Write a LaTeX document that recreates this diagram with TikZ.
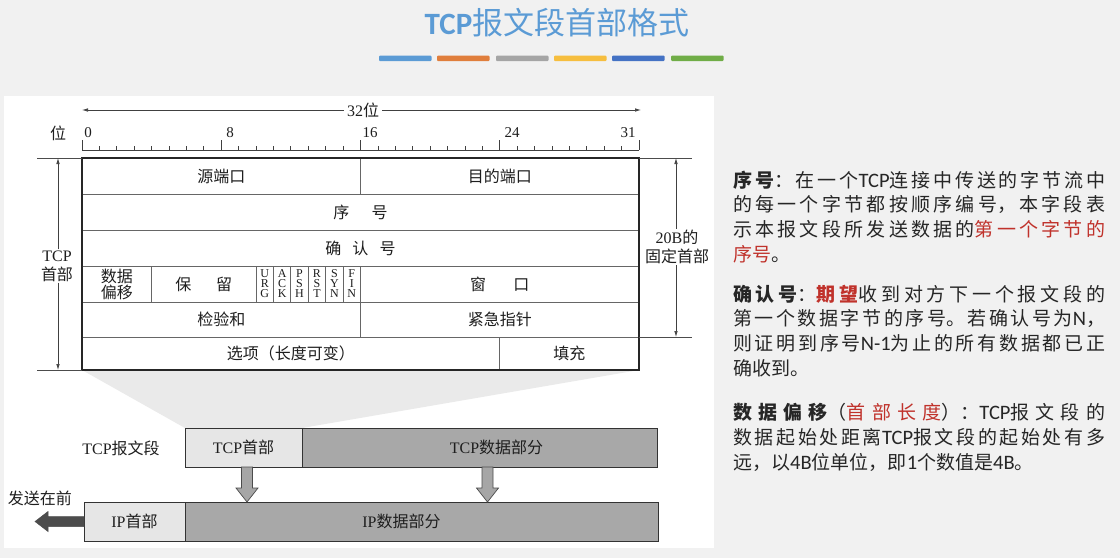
\documentclass[tikz,border=0pt]{standalone}
\usepackage{fontspec}
\setmainfont{Noto Sans CJK SC}
\newfontfamily\tmfont{Liberation Serif}
\newfontfamily\clfont[Scale=1.08]{Carlito}
\newfontfamily\cltitle{Carlito}
\newcommand\tm[1]{{\tmfont #1}}
\newcommand\cl[1]{{\clfont #1}}
\usetikzlibrary{arrows.meta,calc,backgrounds}
\XeTeXlinebreaklocale "zh"
\XeTeXlinebreakskip=0pt plus 4pt
\tolerance=9999
\definecolor{slidebg}{HTML}{F1F1F1}
\definecolor{titleblue}{HTML}{5B9BD5}
\definecolor{barA}{HTML}{5B9BD5}
\definecolor{barB}{HTML}{E07E3C}
\definecolor{barC}{HTML}{A5A5A5}
\definecolor{barD}{HTML}{F6BE3F}
\definecolor{barE}{HTML}{4472C4}
\definecolor{barF}{HTML}{70AD47}
\definecolor{ink}{HTML}{262626}
\definecolor{accent}{HTML}{C0322B}
\definecolor{figink}{HTML}{1E1E1E}
\definecolor{hdrfill}{HTML}{E6E6E6}
\definecolor{datafill}{HTML}{A8A8A8}
\definecolor{zoomfill}{HTML}{EAEAEA}
\newcommand\accenttext[1]{{\color{accent}#1}}
\begin{document}
\begin{tikzpicture}[x=1pt,y=-1pt,
  figtext/.style={font=\fontsize{16}{19}\selectfont, text=figink, inner sep=1pt, align=center},
  numlab/.style={font=\tmfont\fontsize{15}{15}\selectfont, text=figink, inner sep=0pt},
  cell/.style={draw=black!60, line width=0.8pt, inner sep=0pt, outer sep=0pt, anchor=north west,
    align=center, font=\fontsize{16}{16}\selectfont, text=figink},
  flag/.style={cell, minimum width=17.40625, minimum height=36, font=\tmfont\fontsize{12}{10}\selectfont},
  outline/.style={draw=black!85, line width=1.5pt},
  rulerline/.style={draw=black!75, line width=0.8pt},
  extline/.style={draw=black!70, line width=0.8pt},
  dim/.style={draw=black!75, line width=0.7pt, -{Latex[length=6pt,width=3.5pt]}},
  hdrbox/.style={draw=black!80, line width=1pt, fill=hdrfill, anchor=north west, inner sep=0pt,
    outer sep=0pt, font=\fontsize{16}{16}\selectfont, text=figink},
  databox/.style={hdrbox, fill=datafill},
  blockarr/.style={draw=black!70, line width=0.7pt, fill=black!35, line join=miter},
  sendarr/.style={fill=black!70, draw=black!70, line width=0.5pt, line join=miter},
  para/.style={anchor=north west, inner sep=0pt, text width=372, align=justify,
    font=\fontsize{19}{24.7}\selectfont, text=ink}]
\useasboundingbox (0,0) rectangle (1120,558);
\begin{scope}[on background layer]
  \fill[slidebg] (0,0) rectangle (1120,558);
  \fill[white] (4,96) rectangle (714,548);
\end{scope}

% title and coloured bars
\node[font=\fontsize{31}{31}\selectfont, text=titleblue, inner sep=0pt] (title) at (557,23)
  {{\cltitle\bfseries TCP}报文段首部格式};
\foreach \x/\c in {379/barA, 437/barB, 496/barC, 554/barD, 612/barE, 671/barF}
  \fill[\c, rounded corners=1pt] (\x,55.5) rectangle ++(52.5,5.5);

% bit ruler
\draw[rulerline] (82,150) -- (639,150);
\foreach \i in {1,...,31}
  \draw[rulerline] ({82+\i*17.40625},150) -- ++(0,-4);
\foreach \i in {0,8,16,24,32}
  \draw[rulerline] ({82+\i*17.40625},150) -- ++(0,-10);
\node[figtext] (wei) at (58,133) {位};
\node[numlab] (n0) at (88,133) {0};
\node[numlab] (n8) at (230,133) {8};
\node[numlab] (n16) at (370,133) {16};
\node[numlab] (n24) at (512,133) {24};
\node[numlab] (n31) at (628,133) {31};

% 32-bit width marker
\node[figtext, fill=white, inner xsep=3pt] (w32) at (363,110) {\tm{32}位};
\coordinate (wl) at (82,110);
\coordinate (wr) at (641,110);
\draw[dim] (w32) -- (wl);
\draw[dim] (w32) -- (wr);

% header fields
\node[cell, minimum width=278.5, minimum height=36] (src) at (82,158) {源端口};
\node[cell, minimum width=278.5, minimum height=36] (dst) at (360.5,158) {目的端口};
\node[cell, minimum width=557, minimum height=36] (seq) at (82,194) {序\hspace{1.4em}号};
\node[cell, minimum width=557, minimum height=36] (ack) at (82,230) {确\hspace{.7em}认\hspace{.7em}号};
\node[cell, minimum width=69.625, minimum height=36] (off) at (82,266) {数据\\偏移};
\node[cell, minimum width=104.4375, minimum height=36] (rsv) at (151.625,266) {保\hspace{1.55em}留};
\node[flag] (urg) at (256.0625,266) {U\\R\\G};
\node[flag] (ackf) at (273.46875,266) {A\\C\\K};
\node[flag] (psh) at (290.875,266) {P\\S\\H};
\node[flag] (rst) at (308.28125,266) {R\\S\\T};
\node[flag] (syn) at (325.6875,266) {S\\Y\\N};
\node[flag] (fin) at (343.09375,266) {F\\I\\N};
\node[cell, minimum width=278.5, minimum height=36] (win) at (360.5,266) {窗\hspace{1.7em}口};
\node[cell, minimum width=278.5, minimum height=35] (chk) at (82,302) {检验和};
\node[cell, minimum width=278.5, minimum height=35] (urp) at (360.5,302) {紧急指针};
\node[cell, minimum width=417.75, minimum height=33] (opt) at (82,337) {选项（长度可变）};
\node[cell, minimum width=139.25, minimum height=33] (pad) at (499.75,337) {填充};
\draw[outline] (src.north west) rectangle (pad.south east);

% left dimension: whole TCP header
\coordinate (lt) at (37,158);
\coordinate (lb) at (37,370);
\draw[extline] (src.north west) -- (lt);
\draw[extline] (opt.south west) -- (lb);
\node[figtext] (tcphl) at (57,266) {\tm{TCP}\\首部};
\coordinate (lta) at (58,158);
\coordinate (lba) at (58,370);
\draw[dim] (tcphl.north -| lta) -- (lta);
\draw[dim] (tcphl.south -| lba) -- (lba);

% right dimension: fixed 20-byte part
\coordinate (rt) at (692,158);
\coordinate (rb) at (692,337);
\draw[extline] (dst.north east) -- (rt);
\draw[extline] (urp.south east) -- (rb);
\node[figtext] (fixl) at (677,247) {\tm{20B}的\\固定首部};
\coordinate (rta) at (676,158);
\coordinate (rba) at (676,337);
\draw[dim] (fixl.north -| rta) -- (rta);
\draw[dim] (fixl.south -| rba) -- (rba);

% TCP segment and IP datagram
\node[figtext] (seglab) at (121,448) {\tm{TCP}报文段};
\node[hdrbox, minimum width=117, minimum height=39] (tcph) at (185,428) {\tm{TCP}首部};
\node[databox, minimum width=355, minimum height=39] (tcpd) at (302,428) {};
\node[figtext] (tcpdt) at ($(tcpd.center)+(17,0)$) {\tm{TCP}数据部分};
\node[hdrbox, minimum width=101, minimum height=39] (iph) at (84,502) {\tm{IP}首部};
\node[databox, minimum width=473, minimum height=39] (ipd) at (185,502) {};
\node[figtext] (ipdt) at ($(ipd.center)+(-20,0)$) {\tm{IP}数据部分};
\node[figtext] (send) at (40,498) {发送在前};

\begin{scope}[on background layer]
  \fill[zoomfill] (opt.south west) -- (pad.south east) -- (tcph.north east) -- (tcph.north west) -- cycle;
\end{scope}

% encapsulation arrows
\draw[blockarr] ($(tcph.south)+(3.5,0)$) ++(-5.5,0) -- ++(0,21) -- ++(-5.5,0) -- ++(11,14)
  -- ++(11,-14) -- ++(-5.5,0) -- ++(0,-21) -- cycle;
\draw[blockarr] ($(tcpd.south)+(8,0)$) ++(-5.5,0) -- ++(0,21) -- ++(-5.5,0) -- ++(11,14)
  -- ++(11,-14) -- ++(-5.5,0) -- ++(0,-21) -- cycle;
\draw[sendarr] (iph.west) ++(0,-5) -- ++(-36,0) -- ++(0,-5) -- ++(-13,10) -- ++(13,10)
  -- ++(0,-5) -- ++(36,0) -- cycle;

% field notes
\node[para] (p1) at (733,170.5) {\textbf{序号}：在一个\cl{TCP}连接中传送的字节流中\linebreak 的每一个字节都按顺序编号，本字段表\linebreak 示本报文段所发送数据的\accenttext{第一个字节的}\linebreak \accenttext{序号}。};
\node[para] (p2) at (733,284.5) {\textbf{确认号}：\accenttext{\textbf{期望}}收到对方下一个报文段的\linebreak 第一个数据字节的序号。若确认号为\cl{N}，\linebreak 则证明到序号\cl{N-1}为止的所有数据都已正\linebreak 确收到。};
\node[para] (p3) at (733,403.5) {\textbf{数据偏移}（\accenttext{首部长度}）：\cl{TCP}报文段的\linebreak 数据起始处距离\cl{TCP}报文段的起始处有多\linebreak 远，以\cl{4B}位单位，即\cl{1}个数值是\cl{4B}。};
\end{tikzpicture}
\end{document}
